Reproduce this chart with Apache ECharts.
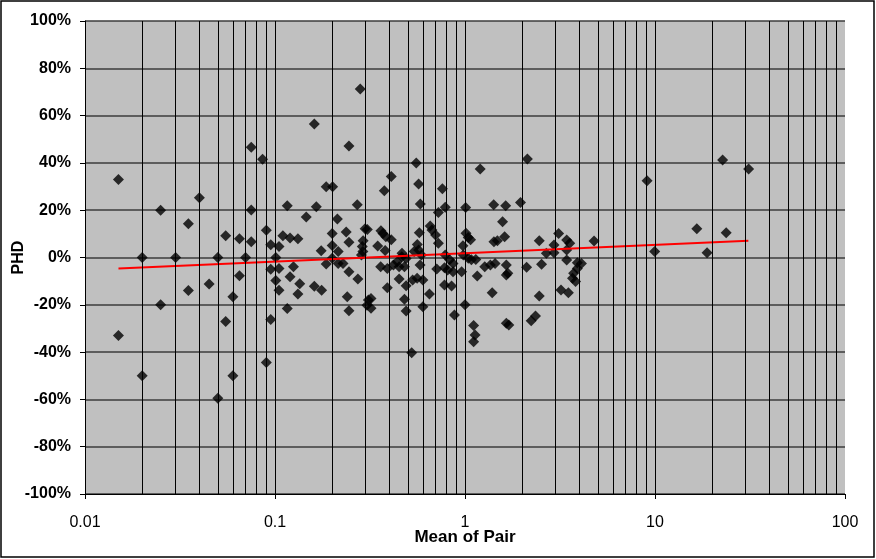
<!DOCTYPE html>
<html>
<head>
<meta charset="utf-8">
<script src="https://cdn.jsdelivr.net/npm/echarts@6/dist/echarts.min.js"></script>
<style>
html,body{margin:0;padding:0;background:#fff;}
#chart{width:876px;height:559px;}
</style>
</head>
<body>
<div id="chart"></div>
<script>
// Mean of Pair (x) and PHD in % (y)
const meanOfPair = [
0.015,0.015,0.020,0.020,0.025,0.025,0.030,0.035,0.035,0.040,
0.045,0.050,0.050,0.055,0.055,0.060,0.060,0.065,0.065,0.070,
0.075,0.075,0.075,0.086,0.090,0.090,0.095,0.095,0.095,0.101,
0.101,0.105,0.105,0.105,0.110,0.116,0.116,0.120,0.120,0.125,
0.132,0.132,0.135,0.146,0.161,0.161,0.165,0.175,0.176,0.186,
0.186,0.201,0.200,0.200,0.200,0.213,0.215,0.215,0.228,0.237,
0.245,0.245,0.245,0.240,0.245,0.271,0.273,0.281,0.285,0.288,
0.291,0.290,0.298,0.306,0.310,0.320,0.305,0.320,0.347,0.361,
0.370,0.383,0.409,0.376,0.409,0.380,0.360,0.390,0.420,0.450,
0.480,0.450,0.490,0.390,0.480,0.490,0.524,0.466,0.465,0.490,
0.440,0.554,0.570,0.582,0.575,0.561,0.540,0.570,0.590,0.580,
0.560,0.600,0.530,0.650,0.600,0.656,0.670,0.700,0.724,0.724,
0.760,0.787,0.710,0.780,0.810,0.865,0.960,0.780,0.850,0.787,
0.830,0.865,0.880,0.975,0.980,1.008,1.012,1.040,1.070,1.040,
1.080,1.140,1.000,1.110,1.130,1.110,1.160,1.202,1.270,1.360,
1.440,1.416,1.420,1.480,1.390,1.577,1.616,1.637,1.650,1.650,
1.680,1.650,1.700,1.960,2.110,2.130,2.230,2.350,2.460,2.530,
2.460,2.680,2.940,2.940,3.110,3.430,3.560,3.430,3.430,3.900,
4.100,3.900,3.730,3.680,3.820,3.200,3.500,4.780,9.080,9.960,
16.6,18.8,22.7,23.7,31.1
];
const phdPct = [
33,-33,0,-50,20,-20,0,14.3,-14,25.3,
-11.2,0,-59.5,9.2,-27.1,-16.6,-50,7.9,-7.7,0,
20.1,6.7,46.6,41.5,11.5,-44.4,5.4,-5,-26.2,0,
-9.7,4.7,-4.6,-13.9,9.2,21.9,-21.6,8.2,-8.1,-3.9,
7.9,-15.4,-11.1,17.1,56.4,-12.2,21.5,2.9,-13.8,29.9,
-2.7,29.9,10.2,5.1,-0.3,16.3,2.5,-2.5,-2.5,10.8,
47.1,6.4,-6,-16.6,-22.5,22.3,-9.1,71.2,1.1,4.6,
7.1,2.5,12.2,11.8,-18,-17.3,-20.2,-21.5,4.9,11.3,
10.2,8.8,7.5,28.2,34.2,3,-3.9,-4.6,-3.2,-3.9,
-3.9,-9.1,-11.9,-12.8,-17.7,-22.6,-40.3,1.8,0.3,-0.4,
-1.8,40,31.1,22.6,10.5,5.5,2.5,3.2,1.1,-3.2,
-8.8,-9.5,-9.5,-15.4,-20.8,13.3,11.6,9.5,6,19,
29.1,21.2,-4.9,-4.3,-5.3,-6,-6,-11.6,-12,1.1,
-1,-2.5,-24.3,5,1.1,21.1,10.3,8.5,7.5,-0.3,
-1,-0.8,-20,-28.8,-32.8,-35.6,-7.8,37.4,-3.9,-3.2,
-2.5,22.3,6.7,7.1,-14.9,15.1,8.8,21.9,-3.2,-7.4,
-6.7,-27.8,-28.5,23.3,-4.1,41.6,-26.7,-24.7,7.1,-2.9,
-16.3,1.8,2,5.3,10.2,7.4,6,3.2,-1.1,-2.2,
-2.5,-4.6,-6.7,-8.8,-10.2,-13.7,-14.9,7,32.5,2.5,
12.2,2,41.2,10.5,37.4
];
// logarithmic trend line end points
const trendX = [0.015, 31];
const trendY = [-4.7, 7.1];
// tick labels
const xTickLabels = ['0.01','0.1','1','10','100'];
const xGridValues = [0.02,0.03,0.04,0.05,0.06,0.07,0.08,0.09,0.1,0.2,0.3,0.4,0.5,0.6,0.7,0.8,0.9,1,2,3,4,5,6,7,8,9,10,20,30,40,50,60,70,80,90];

const chart = echarts.init(document.getElementById('chart'), null, {renderer:'canvas'});
const font = '"Liberation Sans", Arial, sans-serif';
const points = meanOfPair.map((x,i)=>[x, phdPct[i]]);
const trend = trendX.map((x,i)=>[x, trendY[i]]);

chart.setOption({
  animation:false,
  backgroundColor:'#ffffff',
  graphic:[{type:'rect', shape:{x:1,y:1,width:873,height:556}, style:{fill:'none',stroke:'#000',lineWidth:1.5}, z:-1}],
  grid:{left:85, right:31, top:21, bottom:65, show:true, backgroundColor:'#c0c0c0', borderWidth:0,
        containLabel:false, outerBoundsMode:'none'},
  xAxis:{
    type:'log', logBase:10, min:0.01, max:100, splitNumber:4,
    name:'Mean of Pair', nameLocation:'middle', nameGap:35, nameMoveOverlap:false,
    nameTextStyle:{fontFamily:font, fontSize:17, fontWeight:'bold', color:'#000'},
    axisLine:{show:true, onZero:false, lineStyle:{color:'#000', width:1}},
    axisTick:{show:true, length:5, lineStyle:{color:'#000'}},
    axisLabel:{fontFamily:font, fontSize:16, color:'#000', margin:21,
      formatter:(v,i)=>xTickLabels[i] !== undefined ? xTickLabels[i] : ''},
    splitLine:{show:false}, minorTick:{show:false}
  },
  yAxis:{
    type:'value', min:-100, max:100, interval:20,
    name:'PHD', nameLocation:'middle', nameGap:58, nameRotate:90, nameMoveOverlap:false,
    nameTextStyle:{fontFamily:font, fontSize:16, fontWeight:'bold', color:'#000'},
    axisLine:{show:true, lineStyle:{color:'#000', width:1}},
    axisTick:{show:true, length:5, lineStyle:{color:'#000'}},
    axisLabel:{fontFamily:font, fontSize:16, fontWeight:'bold', color:'#000', margin:14,
      formatter:'{value}%'},
    splitLine:{show:true, lineStyle:{color:'#3c3c3c', width:1.5}}
  },
  series:[
    {
      type:'scatter', data:[], z:1, silent:true,
      markLine:{silent:true, symbol:['none','none'], label:{show:false},
        lineStyle:{type:'solid', color:'#000', width:1},
        emphasis:{disabled:true},
        data:xGridValues.map(v=>({xAxis:v}))}
    },
    {
      type:'scatter', data:points, symbol:'diamond', symbolSize:11, z:3,
      itemStyle:{color:'#000'}
    },
    {
      type:'line', data:trend, symbol:'none', z:4,
      lineStyle:{color:'#ff0000', width:2}
    }
  ]
});
</script>
</body>
</html>
